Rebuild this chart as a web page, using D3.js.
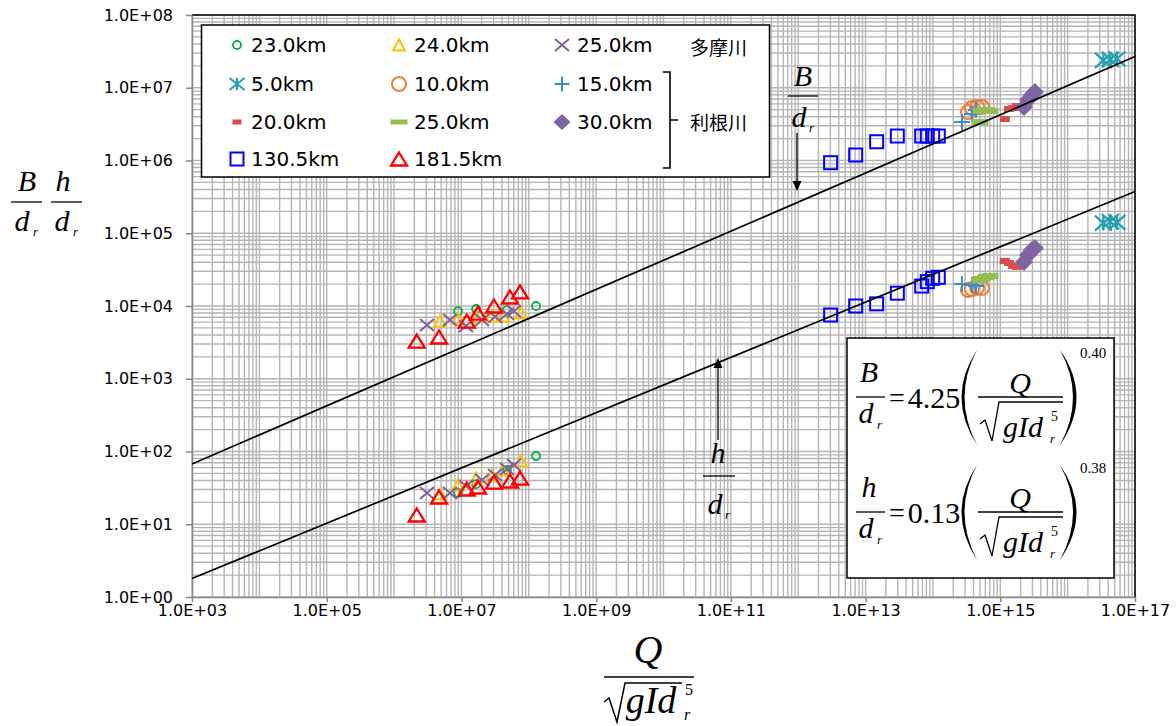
<!DOCTYPE html>
<html>
<head>
<meta charset="utf-8">
<script src="https://cdn.jsdelivr.net/npm/d3@7"></script>
<style>
  body{margin:0;background:#fff;}
  .tick text{font-family:"DejaVu Sans";font-size:16px;fill:#000;}
  .math{font-family:"Liberation Serif";font-style:italic;fill:#000;}
  .num{font-family:"Liberation Serif";fill:#000;}
</style>
</head>
<body>
<svg width="1176" height="726"></svg>
<script>
// ---- data ----
var seriesNames = ["23.0km","24.0km","25.0km","5.0km","10.0km","15.0km","20.0km","25.0km","30.0km","130.5km","181.5km"];
var riverNames = ["多摩川","利根川"];

// Q/sqrt(gId^5) per series
var qData = [
  [8.9e6, 1.65e7, 4.74e7, 1.28e8],
  [4.8e6, 8.9e6, 1.65e7, 2.85e7, 4.14e7, 7.66e7],
  [3.08e6, 6.76e6, 1.17e7, 2.02e7, 3.15e7, 4.74e7, 6.03e7],
  [3.4e16, 4.3e16, 5.4e16],
  [3.31e14, 3.8e14, 4.51e14, 5.35e14],
  [2.7e14, 3.8e14, 4.36e14],
  [1.17e15, 1.35e15, 1.55e15, 1.77e15],
  [4.99e14, 5.17e14, 6.1e14, 7.03e14],
  [2.25e15, 2.58e15, 2.95e15, 3.27e15],
  [3.03e12, 7.13e12, 1.46e13, 2.96e13, 6.81e13, 8.24e13, 9.91e13, 1.2e14],
  [2.17e6, 4.65e6, 1.2e7, 1.76e7, 3.04e7, 5.26e7, 7.4e7]
];
// B/dr per series
var bData = [
  [8.5e3, 9.1e3, 8.8e3, 1.0e4],
  [6.2e3, 6.8e3, 7.1e3, 7.3e3, 7.3e3, 8.0e3],
  [5.5e3, 6.4e3, 5.3e3, 6.4e3, 7.1e3, 7.8e3, 8.5e3],
  [2.38e7, 2.45e7, 2.5e7],
  [4.64e6, 5.27e6, 5.44e6, 5.44e6],
  [3.38e6, 4.35e6, 4.94e6],
  [3.72e6, 5.1e6, 5.27e6, 5.61e6],
  [3.38e6, 4.79e6, 4.94e6, 4.79e6],
  [5.44e6, 6.79e6, 7.94e6, 8.74e6],
  [9.33e5, 1.19e6, 1.81e6, 2.17e6, 2.17e6, 2.17e6, 2.17e6, 2.17e6],
  [3.3e3, 3.75e3, 6.2e3, 8.0e3, 1.0e4, 1.33e4, 1.56e4]
];
// h/dr per series
var hData = [
  [26.9, 35.7, 55.7, 86.7],
  [26, 34.7, 43.2, 47.5, 55.7, 74],
  [26.9, 26.9, 33.6, 40.6, 47.5, 57.5, 65.2],
  [1.38e5, 1.45e5, 1.41e5],
  [1.66e4, 1.71e4, 1.77e4, 1.77e4],
  [2.0e4, 1.95e4, 1.88e4],
  [4.16e4, 3.9e4, 3.55e4, 3.44e4],
  [2.27e4, 2.35e4, 2.5e4, 2.58e4],
  [4.03e4, 5.03e4, 5.89e4, 6.25e4],
  [7.52e3, 1.0e4, 1.07e4, 1.5e4, 1.88e4, 2.16e4, 2.4e4, 2.48e4],
  [13.4, 23.7, 30.5, 32.5, 38, 39.3, 43]
];
// fitted relations
var bCoef = 4.25, bExp = 0.40;
var hCoef = 0.13, hExp = 0.38;
var xTickValues = [1e3,1e5,1e7,1e9,1e11,1e13,1e15,1e17];
var yTickValues = [1e0,1e1,1e2,1e3,1e4,1e5,1e6,1e7,1e8];

// ---- styles ----
var markerType = ["circle","triangle","x","star","circle","plus","dash","dash","diamond","square","triangle"];
var markerColor = ["#00b050","#ffc000","#7f619f","#23a0b0","#ee7d35","#3a8ed0","#dc4c4c","#92c050","#8064a2","#0000ff","#ff0000"];
// [width, height]
var markerSize = [[8,8],[12,11],[14,12],[17,15],[14,14],[16,16],[10,6],[17,6],[18,18],[13,13],[16,13]];
var legendSize = [[8,8],[12,11],[14,12],[15,12],[14,14],[15,15],[9,5],[17,5],[17,16],[13,13],[16,13]];

var svg = d3.select("svg");
var pLeft=192,pRight=1135,pTop=15,pBottom=597;
var x = d3.scaleLog().domain([1e3,1e17]).range([pLeft,pRight]);
var y = d3.scaleLog().domain([1,1e8]).range([pBottom,pTop]);

// gridlines
var gx=[],gy=[];
for(var e=3;e<17;e++) for(var k=1;k<10;k++) gx.push(k*Math.pow(10,e));
gx.push(1e17);
for(var e=0;e<8;e++) for(var k=1;k<10;k++) gy.push(k*Math.pow(10,e));
gy.push(1e8);
var grid=svg.append("g").attr("stroke","#b5b5b5").attr("stroke-width",1.4);
grid.selectAll("line.gx").data(gx).enter().append("line")
  .attr("x1",function(d){return x(d);}).attr("x2",function(d){return x(d);})
  .attr("y1",pTop).attr("y2",pBottom);
grid.selectAll("line.gy").data(gy).enter().append("line")
  .attr("y1",function(d){return y(d);}).attr("y2",function(d){return y(d);})
  .attr("x1",pLeft).attr("x2",pRight);

// frame top/right
svg.append("path").attr("d","M"+pLeft+","+pTop+"H"+pRight+"V"+pBottom)
  .attr("fill","none").attr("stroke","#000").attr("stroke-width",1.5);

function fmt(v){
  var p=Math.round(Math.log10(v));
  return "1.0E+"+(p<10?"0":"")+p;
}
svg.append("g").attr("transform","translate("+pLeft+",0)")
  .call(d3.axisLeft(y).tickValues(yTickValues).tickFormat(fmt).tickSize(6).tickSizeOuter(0).tickPadding(13));
svg.append("g").attr("transform","translate(0,"+pBottom+")")
  .call(d3.axisBottom(x).tickValues(xTickValues).tickFormat(fmt).tickSize(5).tickSizeOuter(0).tickPadding(3));
svg.selectAll(".domain").attr("stroke","#868686").attr("stroke-width",1.5);
svg.selectAll(".tick line").attr("stroke","#868686").attr("stroke-width",1.5);

// markers
function drawMarker(g,type,s,color){
  var w=s[0]/2, h=s[1]/2;
  if(type=="circle"){
    g.append("circle").attr("r",w).attr("fill","none").attr("stroke",color).attr("stroke-width",w<5?1.8:2);
  } else if(type=="triangle"){
    g.append("path").attr("d","M0,"+(-h)+"L"+w+","+h+"L"+(-w)+","+h+"Z")
      .attr("fill","none").attr("stroke",color).attr("stroke-width",w<7?2:2.3).attr("stroke-linejoin","miter");
  } else if(type=="x"){
    g.append("path").attr("d","M"+(-w)+","+(-h)+"L"+w+","+h+"M"+(-w)+","+h+"L"+w+","+(-h))
      .attr("stroke",color).attr("stroke-width",2);
  } else if(type=="star"){
    g.append("path").attr("d","M"+(-w)+","+(-h)+"L"+w+","+h+"M"+(-w)+","+h+"L"+w+","+(-h)+"M0,"+(-h)+"V"+h)
      .attr("stroke",color).attr("stroke-width",2.2);
  } else if(type=="plus"){
    g.append("path").attr("d","M"+(-w)+",0H"+w+"M0,"+(-h)+"V"+h)
      .attr("stroke",color).attr("stroke-width",2);
  } else if(type=="dash"){
    g.append("rect").attr("x",-w).attr("y",-h).attr("width",2*w).attr("height",2*h).attr("fill",color);
  } else if(type=="diamond"){
    g.append("path").attr("d","M0,"+(-h)+"L"+w+",0L0,"+h+"L"+(-w)+",0Z").attr("fill",color);
  } else if(type=="square"){
    g.append("rect").attr("x",-w).attr("y",-h).attr("width",2*w).attr("height",2*h)
      .attr("fill","none").attr("stroke",color).attr("stroke-width",2);
  }
}

var dataLayer=svg.append("g");
seriesNames.forEach(function(name,i){
  var pts=[];
  qData[i].forEach(function(q,j){ pts.push([q,bData[i][j]]); pts.push([q,hData[i][j]]); });
  dataLayer.append("g").selectAll("g").data(pts).enter().append("g")
    .attr("transform",function(d){return "translate("+x(d[0])+","+y(d[1])+")";})
    .each(function(){ drawMarker(d3.select(this),markerType[i],markerSize[i],markerColor[i]); });
});

// fit lines
var line=d3.line().x(function(d){return x(d[0]);}).y(function(d){return y(d[1]);});
var ends=x.domain();
svg.append("path").attr("d",line(ends.map(function(q){return [q,bCoef*Math.pow(q,bExp)];})))
  .attr("fill","none").attr("stroke","#000").attr("stroke-width",1.7);
svg.append("path").attr("d",line(ends.map(function(q){return [q,hCoef*Math.pow(q,hExp)];})))
  .attr("fill","none").attr("stroke","#000").attr("stroke-width",1.7);

// legend
var lg=svg.append("g");
lg.append("rect").attr("x",201.5).attr("y",25).attr("width",568).attr("height",152)
  .attr("fill","#fff").attr("stroke","#000").attr("stroke-width",1.5);
var colMark=[237,399,562], colText=[251,414,577], rowY=[45,84,122,159];
seriesNames.forEach(function(name,i){
  var c=i%3, r=Math.floor(i/3);
  var g=lg.append("g").attr("transform","translate("+colMark[c]+","+rowY[r]+")");
  drawMarker(g,markerType[i],legendSize[i],markerColor[i]);
  lg.append("text").attr("x",colText[c]).attr("y",rowY[r]).attr("dy","0.36em")
    .attr("font-family","DejaVu Sans").attr("font-size",20).text(name);
});
lg.append("path").attr("d","M663,72H670V168H663M670,120H678").attr("fill","none").attr("stroke","#000").attr("stroke-width",1.6);
lg.append("text").attr("x",690).attr("y",48).attr("dy","0.36em").attr("font-family","Noto Sans CJK JP").attr("font-size",19).text(riverNames[0]);
lg.append("text").attr("x",690).attr("y",123).attr("dy","0.36em").attr("font-family","Noto Sans CJK JP").attr("font-size",19).text(riverNames[1]);

// helpers for math text
function mt(g,txt,xx,yy,size,anchor,cls){
  return g.append("text").attr("class",cls||"math").attr("x",xx).attr("y",yy)
    .attr("font-size",size).attr("text-anchor",anchor||"middle").text(txt);
}
function hline(g,x1,x2,yy,w){
  g.append("line").attr("x1",x1).attr("x2",x2).attr("y1",yy).attr("y2",yy).attr("stroke","#000").attr("stroke-width",w||1.3);
}

// y axis title
var yt=svg.append("g");
mt(yt,"B",27,191,30); hline(yt,11,42,202);
mt(yt,"d",22,231,30); mt(yt,"r",33,236,13,"start");
mt(yt,"h",63,191,30); hline(yt,51,82,202);
mt(yt,"d",62,231,30); mt(yt,"r",73,236,13,"start");

// x axis title
var xt=svg.append("g");
mt(xt,"Q",648,663,40); hline(xt,604,694,677,1.5);
xt.append("path").attr("d","M604,702L609,698L617,722L625,683H682").attr("fill","none").attr("stroke","#000").attr("stroke-width",1.5);
mt(xt,"gId",651,713,38); mt(xt,"r",684,720,16,"start"); mt(xt,"5",685,695,16,"start","num");

// annotations inside plot
var an=svg.append("g");
mt(an,"B",803,86,30); hline(an,788,818,96);
mt(an,"d",799,127,30); mt(an,"r",809,132,13,"start");
an.append("line").attr("x1",797).attr("x2",797).attr("y1",133).attr("y2",182).attr("stroke","#000").attr("stroke-width",1.3);
an.append("path").attr("d","M797,191L792.5,181L801.5,181Z").attr("fill","#000");
mt(an,"h",718,463,30); hline(an,703,735,476);
mt(an,"d",715,514,30); mt(an,"r",725,519,13,"start");
an.append("line").attr("x1",718).attr("x2",718).attr("y1",440).attr("y2",367).attr("stroke","#000").attr("stroke-width",1.3);
an.append("path").attr("d","M718,358L713.5,368L722.5,368Z").attr("fill","#000");

// equation box
var eb=svg.append("g");
eb.append("rect").attr("x",847).attr("y",338).attr("width",267).attr("height",240)
  .attr("fill","#fff").attr("stroke","#000").attr("stroke-width",1.5);
function equation(dy,lhs,coef,expo){
  var g=eb.append("g").attr("transform","translate(0,"+dy+")");
  mt(g,lhs,869,382,30); hline(g,856,885,397);
  mt(g,"d",866,423,30); mt(g,"r",877,429,13,"start");
  mt(g,"=",897,407,28,"middle","num");
  mt(g,coef,934,408,30,"middle","num");
  g.append("path").attr("d","M977,350Q946,397 977,445Q952,397 977,350Z").attr("fill","#000");
  g.append("path").attr("d","M1060,350Q1093,397 1060,445Q1086,397 1060,350Z").attr("fill","#000");
  mt(g,"Q",1020,393,30); hline(g,978,1063,397);
  g.append("path").attr("d","M980,424L985,420L992,441L999,402H1063").attr("fill","none").attr("stroke","#000").attr("stroke-width",1.3);
  mt(g,"gId",1023,437,30); mt(g,"r",1050,443,13,"start"); mt(g,"5",1051,421,14,"start","num");
  mt(g,expo,1080,358,15,"start","num");
}
equation(0,"B",bCoef.toFixed(2),bExp.toFixed(2));
equation(115,"h",hCoef.toFixed(2),hExp.toFixed(2));
</script>
</body>
</html>
